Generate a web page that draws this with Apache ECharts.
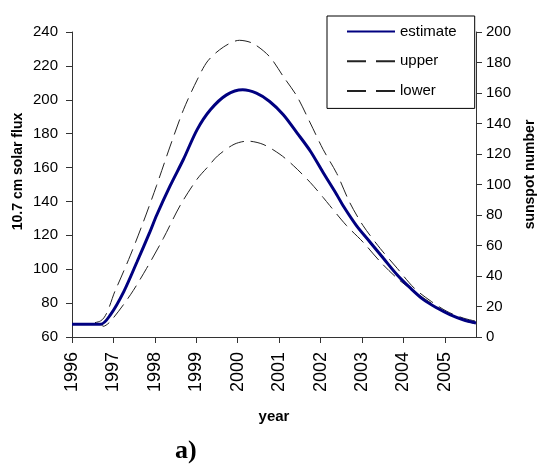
<!DOCTYPE html>
<html>
<head>
<meta charset="utf-8">
<script src="https://cdn.jsdelivr.net/npm/echarts@6/dist/echarts.min.js"></script>
<style>html,body{margin:0;padding:0;background:#fff}#c{width:539px;height:467px}</style>
</head>
<body>
<div id="c"></div>
<script>
const estYears = [1996.0,1996.69,1996.93,1997.25,1997.57,1997.88,1998.04,1998.37,1998.69,1999.02,1999.34,1999.73,2000.12,2000.45,2000.77,2001.10,2001.43,2001.75,2002.06,2002.39,2002.54,2002.86,2003.19,2003.52,2003.85,2004.17,2004.49,2004.81,2005.12,2005.44,2005.75];
const estFlux  = [67.5,67.5,73.2,86.8,104.4,122,131.7,149.3,164.9,182.4,194.1,202.9,205.9,203.9,199,191.2,180.5,169.8,157.1,144,137.6,125.9,116.1,106.3,96.6,88.8,81.9,77.1,73.2,70.2,68.3];
const upYears  = [1996.0,1996.69,1997.05,1997.41,1997.72,1998.04,1998.37,1998.69,1999.02,1999.28,1999.66,2000.04,2000.37,2000.77,2001.10,2001.43,2001.75,2002.06,2002.39,2002.70,2003.02,2003.44,2003.85,2004.26,2004.67,2005.05,2005.44,2005.75];
const upFlux   = [67.5,69.5,87.8,108.3,127.8,149.3,172.7,194.1,211.7,223,231.2,235.1,233.2,225.4,213.7,202,186.3,170.7,156.5,139.5,125.9,112.2,100.5,88.8,81,75.1,71.2,69.3];
const loYears  = [1996.0,1996.69,1996.75,1996.93,1997.41,1997.80,1998.20,1998.61,1999.02,1999.30,1999.51,1999.91,2000.24,2000.61,2001.02,2001.35,2001.75,2002.06,2002.22,2002.62,2003.02,2003.44,2003.85,2004.26,2004.67,2005.05,2005.52,2005.75];
const loFlux   = [67.5,67.5,66.3,69.3,84.9,100.5,118,137.6,153.2,161,166.8,173.7,175.6,173.7,167.8,161,151.2,142.4,137.6,125.9,116.1,104.4,94.6,86.8,80,74.1,69.3,67.8];
const seriesNames = ['estimate','upper','lower'];
const xName = 'year', yLeftName = '10.7 cm solar flux', yRightName = 'sunspot number', panelLabel = 'a)';

const pair = (xs, ys) => xs.map((x, i) => [x, ys[i]]);
const chart = echarts.init(document.getElementById('c'));
const axisLineStyle = {color: '#333', width: 1};
const dash = {color: '#222', width: 1, type: [16, 7]};
chart.setOption({
  animation: false,
  backgroundColor: '#fff',
  textStyle: {fontFamily: 'Liberation Sans, Arial, sans-serif'},
  grid: {left: 72, right: 63, top: 32, bottom: 130, containLabel: false, outerBoundsMode: 'none'},
  legend: {
    orient: 'vertical', left: 327, top: 16,
    padding: [8, 18, 10, 19], itemGap: 14.7,
    itemWidth: 48, itemHeight: 14,
    borderColor: '#000', borderWidth: 1, backgroundColor: '#fff',
    itemStyle: {color: 'transparent', borderColor: 'transparent', borderWidth: 0},
    lineStyle: {type: [19, 10]},
    textStyle: {fontSize: 15, color: '#000'},
    data: [
      {name: seriesNames[0], itemStyle: {color: 'transparent'}, lineStyle: {type: 'solid'}},
      {name: seriesNames[1]},
      {name: seriesNames[2]}
    ]
  },
  xAxis: {
    type: 'value', min: 1996, max: 2005.75, interval: 1,
    name: xName, nameLocation: 'middle', nameGap: 72,
    nameTextStyle: {fontSize: 15, fontWeight: 'bold', color: '#000'},
    axisLine: {lineStyle: axisLineStyle},
    axisTick: {length: 6, lineStyle: axisLineStyle},
    axisLabel: {rotate: 90, margin: 15, fontSize: 18, color: '#000', showMaxLabel: false, formatter: v => String(Math.round(v))},
    splitLine: {show: false}
  },
  yAxis: [{
    type: 'value', min: 60, max: 240, interval: 20, position: 'left',
    name: yLeftName, nameLocation: 'middle', nameGap: 47, nameRotate: 90, nameMoveOverlap: false,
    nameTextStyle: {fontSize: 14, fontWeight: 'bold', color: '#000', padding: [0, 0, 0, 26]},
    axisLine: {show: true, lineStyle: axisLineStyle},
    axisTick: {show: true, length: 6, lineStyle: axisLineStyle},
    axisLabel: {fontSize: 15, color: '#000', margin: 14},
    splitLine: {show: false}
  }, {
    type: 'value', min: 0, max: 200, interval: 20, position: 'right',
    name: yRightName, nameLocation: 'middle', nameGap: 47, nameRotate: 90, nameMoveOverlap: false,
    nameTextStyle: {fontSize: 14, fontWeight: 'bold', color: '#000', padding: [0, 0, 0, 20]},
    axisLine: {show: true, lineStyle: axisLineStyle},
    axisTick: {show: true, length: 6, lineStyle: axisLineStyle},
    axisLabel: {fontSize: 15, color: '#000', margin: 10},
    splitLine: {show: false}
  }],
  graphic: [{
    type: 'text', left: 175, top: 438,
    style: {text: panelLabel, font: 'bold 26px "Liberation Serif", "Times New Roman", serif', fill: '#000'}
  }],
  series: [
    {name: seriesNames[1], type: 'line', yAxisIndex: 0, data: pair(upYears, upFlux), symbol: 'none', smooth: 0.3, lineStyle: dash, itemStyle: {color: '#222'}},
    {name: seriesNames[2], type: 'line', yAxisIndex: 0, data: pair(loYears, loFlux), symbol: 'none', smooth: 0.3, lineStyle: dash, itemStyle: {color: '#222'}},
    {name: seriesNames[0], type: 'line', yAxisIndex: 0, data: pair(estYears, estFlux), symbol: 'none', smooth: 0.3, lineStyle: {color: '#000080', width: 3}, itemStyle: {color: '#000080'}, z: 3}
  ]
});
</script>
</body>
</html>
